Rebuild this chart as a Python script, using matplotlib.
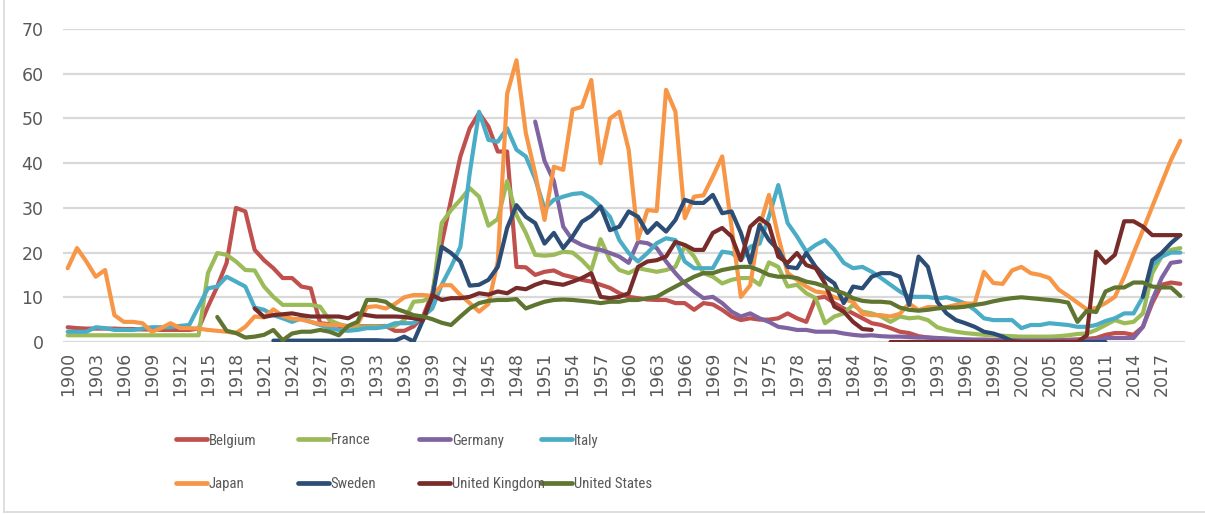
import numpy as np
import matplotlib
matplotlib.use("Agg")
import matplotlib.pyplot as plt
from matplotlib.lines import Line2D

N = None
years = list(range(1900, 2020))

belgium = [
    3.3, 3.1, 3.0, 3.0, 3.0, 3.0, 2.9, 2.9, 2.8, 2.8,
    2.7, 2.7, 2.7, 2.7, 3.0, 7.9, 12.4, 17.7, 30.0, 29.2,
    20.6, 18.3, 16.5, 14.3, 14.3, 12.4, 12.0, 4.2, 4.0, 3.6,
    3.5, 3.5, 3.5, 3.5, 3.6, 2.5, 2.5, 3.5, 5.7, 10.9,
    22.0, 31.8, 41.5, 47.8, 51.2, 48.2, 42.6, 42.6, 16.8, 16.7,
    15.0, 15.7, 16.0, 15.0, 14.5, 13.9, 13.5, 12.8, 12.1, 10.9,
    10.1, 9.8, 9.5, 9.4, 9.4, 8.7, 8.7, 7.2, 8.7, 8.4,
    7.2, 5.7, 4.9, 5.3, 5.0, 5.0, 5.3, 6.4, 5.3, 4.5,
    9.8, 10.1, 8.7, 7.5, 6.4, 5.3, 4.2, 3.8, 3.1, 2.3,
    2.0, 1.3, 1.0, 0.8, 0.7, 0.6, 0.5, 0.5, 0.5, 0.5,
    0.5, 0.5, 0.5, 0.5, 0.5, 0.5, 0.5, 0.5, 0.6, 0.7,
    0.9, 1.6, 2.0, 2.0, 1.6, 3.4, 8.7, 12.8, 13.3, 13.0,
]

france = [
    1.5, 1.5, 1.5, 1.5, 1.5, 1.5, 1.5, 1.5, 1.5, 1.5,
    1.5, 1.5, 1.5, 1.5, 1.5, 15.4, 19.9, 19.5, 18.0, 16.1,
    16.0, 12.4, 10.1, 8.3, 8.3, 8.3, 8.3, 7.9, 4.9, 4.0,
    3.5, 3.3, 3.3, 3.4, 3.5, 3.6, 4.9, 9.0, 9.2, 10.1,
    26.6, 29.5, 31.8, 34.4, 32.5, 26.0, 27.5, 36.0, 28.4, 24.4,
    19.5, 19.3, 19.5, 20.2, 20.0, 18.3, 16.1, 23.0, 18.3, 16.1,
    15.4, 16.5, 16.1, 15.7, 16.1, 16.8, 21.5, 19.1, 15.4, 14.6,
    13.1, 13.9, 14.3, 14.3, 12.8, 17.8, 16.8, 12.4, 12.8, 10.9,
    9.8, 4.2, 5.7, 6.4, 8.3, 6.8, 6.4, 5.7, 4.5, 5.7,
    5.3, 5.5, 4.9, 3.3, 2.7, 2.3, 2.0, 1.8, 1.6, 1.5,
    1.4, 1.3, 1.2, 1.2, 1.2, 1.2, 1.3, 1.5, 1.8, 1.9,
    2.7, 3.8, 4.9, 4.2, 4.5, 6.4, 15.4, 19.1, 20.6, 21.0,
]

germany = [N] * 50 + [
    49.3, 40.5, 36.0, 25.8, 22.8, 21.7, 21.0, 20.6, 19.9, 19.1,
    17.7, 22.4, 22.1, 21.0, 18.0, 15.4, 13.1, 11.3, 9.8, 10.1,
    8.7, 6.8, 5.7, 6.4, 5.3, 4.5, 3.4, 3.1, 2.7, 2.7,
    2.3, 2.3, 2.3, 1.9, 1.6, 1.4, 1.5, 1.3, 1.2, 1.2,
    1.1, 1.0, 1.0, 0.9, 0.8, 0.7, 0.6, 0.5, 0.5, 0.4,
    0.3, 0.3, 0.3, 0.3, 0.3, 0.3, 0.3, 0.3, 0.3, 0.3,
    0.4, 0.9, 0.9, 0.9, 0.9, 3.4, 9.4, 14.3, 17.7, 18.0,
]

italy = [
    2.3, 2.3, 2.3, 3.3, 3.1, 2.7, 2.7, 2.7, 3.0, 3.3,
    3.3, 3.3, 3.6, 3.8, 7.9, 12.0, 12.4, 14.6, 13.5, 12.4,
    7.7, 7.2, 6.0, 5.3, 4.5, 5.3, 4.5, 3.8, 3.1, 2.7,
    2.5, 2.7, 3.1, 3.1, 3.4, 4.2, 4.2, 4.2, 5.7, 7.5,
    12.8, 16.8, 21.3, 37.8, 51.5, 45.2, 44.8, 47.8, 43.0, 41.5,
    36.5, 29.8, 31.8, 32.5, 33.1, 33.3, 32.2, 30.3, 28.0, 22.8,
    19.9, 18.0, 19.9, 22.1, 23.2, 22.8, 18.0, 16.5, 16.5, 16.5,
    20.2, 19.9, 18.3, 21.3, 22.0, 28.0, 35.1, 26.6, 23.6, 20.2,
    21.7, 22.8, 20.6, 17.7, 16.5, 16.8, 15.7, 14.3, 12.8, 11.3,
    10.1, 10.1, 10.1, 9.7, 10.0, 9.4, 8.6, 7.2, 5.3, 4.9,
    4.9, 4.9, 3.1, 3.8, 3.8, 4.2, 4.0, 3.8, 3.4, 3.4,
    3.8, 4.7, 5.3, 6.4, 6.4, 10.1, 17.2, 19.1, 20.0, 20.0,
]

japan = [
    16.5, 21.0, 18.0, 14.6, 16.1, 6.0, 4.5, 4.5, 4.2, 2.3,
    3.1, 4.2, 3.1, 3.1, 3.0, 2.7, 2.5, 2.3, 2.0, 3.4,
    5.7, 5.5, 7.3, 5.8, 5.2, 5.0, 4.5, 4.0, 3.8, 3.8,
    3.5, 4.0, 7.8, 8.0, 7.5, 8.5, 10.0, 10.5, 10.5, 10.3,
    12.7, 12.7, 10.5, 8.7, 6.8, 8.5, 18.0, 55.5, 63.0, 46.7,
    37.7, 27.3, 39.2, 38.5, 52.0, 52.6, 58.6, 40.0, 50.0, 51.5,
    43.0, 23.0, 29.5, 29.3, 56.4, 51.5, 27.7, 32.5, 32.8, 37.0,
    41.5, 25.8, 10.1, 12.7, 25.8, 32.9, 23.6, 15.4, 13.9, 12.4,
    11.3, 11.0, 10.0, 9.5, 9.0, 6.3, 6.0, 6.0, 5.7, 6.3,
    8.6, 7.1, 7.8, 7.8, 7.8, 8.3, 8.6, 8.6, 15.7, 13.2,
    13.0, 16.0, 16.8, 15.4, 15.0, 14.3, 11.7, 10.3, 8.8, 7.3,
    7.6, 8.7, 10.1, 14.6, 19.9, 25.0, 30.3, 35.5, 40.7, 45.0,
]

sweden = [N] * 22 + [
    0.3, 0.3, 0.3, 0.3, 0.3, 0.3, 0.3, 0.3,
    0.4, 0.4, 0.4, 0.4, 0.3, 0.3, 1.2, 0.1, 4.9, 10.0,
    21.3, 19.9, 18.0, 12.6, 12.8, 13.9, 16.8, 25.5, 30.6, 28.0,
    26.6, 22.0, 24.4, 21.0, 23.6, 26.9, 28.2, 30.3, 25.0, 25.8,
    29.2, 28.0, 24.4, 26.6, 24.7, 27.3, 31.8, 31.1, 31.1, 32.9,
    28.8, 29.2, 24.4, 17.7, 26.2, 22.8, 20.6, 16.8, 16.5, 19.9,
    16.8, 14.6, 13.1, 8.7, 12.4, 12.0, 14.6, 15.4, 15.4, 14.6,
    8.3, 19.1, 16.8, 9.0, 6.4, 4.9, 4.2, 3.4, 2.3, 1.9,
    1.2, 0.2, 0.0, 0.0, 0.0, 0.0, 0.0, 0.0, 0.0, 0.0,
    0.0, 0.0, N, N, N, 10.1, 18.3, 19.9, 22.1, 23.9,
]

united_kingdom = [N] * 20 + [
    7.5, 5.6, 6.0, 6.2, 6.4, 6.0, 5.7, 5.7, 5.7, 5.7,
    5.3, 6.4, 6.0, 5.7, 5.7, 5.7, 5.6, 5.3, 4.9, 10.5,
    9.4, 9.8, 9.8, 10.1, 10.9, 10.6, 11.3, 10.9, 12.1, 11.8,
    12.8, 13.5, 13.1, 12.8, 13.5, 14.3, 15.4, 10.1, 9.8, 10.1,
    10.9, 16.8, 18.0, 18.3, 19.1, 22.4, 21.7, 20.6, 20.6, 24.4,
    25.5, 23.6, 18.3, 25.8, 27.7, 26.2, 19.1, 17.7, 19.9, 17.2,
    16.5, 13.1, 7.9, 6.8, 4.5, 2.9, 2.7, N, 0.0, 0.0,
    0.0, 0.0, 0.0, 0.0, 0.0, 0.0, 0.0, 0.0, 0.0, 0.0,
    0.0, 0.0, 0.0, 0.0, 0.0, 0.0, 0.0, 0.0, 0.0, 1.5,
    20.2, 17.7, 19.5, 27.0, 27.0, 25.8, 23.9, 23.9, 23.9, 23.9,
]

united_states = [N] * 16 + [
    5.6, 2.5, 2.0, 1.0,
    1.2, 1.6, 2.7, 0.4, 1.9, 2.3, 2.3, 2.7, 2.3, 1.5,
    3.6, 4.5, 9.4, 9.4, 9.0, 7.5, 6.8, 6.0, 5.7, 5.1,
    4.3, 3.8, 5.7, 7.5, 8.7, 9.2, 9.4, 9.4, 9.6, 7.5,
    8.3, 9.0, 9.4, 9.5, 9.4, 9.2, 9.0, 8.7, 9.0, 9.0,
    9.4, 9.4, 9.8, 10.1, 11.3, 12.4, 13.5, 14.6, 15.4, 15.4,
    16.1, 16.5, 16.8, 16.8, 16.0, 15.0, 14.6, 14.6, 14.3, 13.5,
    13.1, 12.4, 11.6, 10.9, 9.8, 9.2, 9.0, 9.0, 8.8, 7.7,
    7.2, 7.0, 7.2, 7.5, 7.7, 7.7, 7.9, 8.3, 8.6, 9.1,
    9.5, 9.8, 10.0, 9.8, 9.6, 9.4, 9.2, 8.8, 4.5, 7.0,
    6.7, 11.3, 12.2, 12.2, 13.3, 13.3, 12.4, 12.2, 12.2, 10.3,
]

names = ["Belgium", "France", "Germany", "Italy",
         "Japan", "Sweden", "United Kingdom", "United States"]
series = [belgium, france, germany, italy, japan, sweden,
          united_kingdom, united_states]
colors = ["#C0504D", "#9BBB59", "#8064A2", "#4BACC6",
          "#F79646", "#2C4D75", "#772C2A", "#5F7530"]

y_ticks = [0, 10, 20, 30, 40, 50, 60, 70]
x_label_years = list(range(1900, 2019, 3))

W, H = 1205, 514
fig = plt.figure(figsize=(W / 100, H / 100), dpi=100)
ax = fig.add_axes([63 / W, 1 - 342 / H, (1185 - 63) / W, (342 - 29) / H])

for s, c in zip(series, colors):
    v = np.array([np.nan if x is None else x for x in s], dtype=float)
    ax.plot(years, v, color=c, lw=3.0, solid_joinstyle="round",
            solid_capstyle="round", zorder=3)

ax.set_xlim(1899.5, 2019.5)
ax.set_ylim(0, 70)
ax.set_yticks(y_ticks)
ax.set_xticks(x_label_years)
ax.set_xticklabels([str(y) for y in x_label_years], rotation=90)
ax.grid(axis="y", color="#D9D9D9", lw=1.6, zorder=0)
ax.grid(axis="x", visible=False)
ax.set_axisbelow(True)
for sp in ax.spines.values():
    sp.set_visible(False)
ax.tick_params(axis="both", length=0, labelcolor="#595959", labelsize=12.5)
ax.tick_params(axis="y", pad=14)
ax.tick_params(axis="x", pad=7)

# legend drawn manually
legend_font = ["Roboto Condensed", "Liberation Sans", "DejaVu Sans"]
for i, (name, c) in enumerate(zip(names, colors)):
    col, row = i % 4, i // 4
    x0 = 176 + 121.7 * col
    yc = 439 + 43.5 * row
    fig.add_artist(Line2D([x0 / W, (x0 + 31) / W], [1 - yc / H, 1 - yc / H],
                          color=c, lw=3.4, solid_capstyle="round"))
    fig.text((x0 + 33) / W, 1 - yc / H, name, family=legend_font,
             fontsize=10.6, color="#595959", va="center_baseline", ha="left")

# chart area border (left and bottom visible)
fig.add_artist(Line2D([3.5 / W, 3.5 / W], [2 / H, 1], color="#D9D9D9", lw=1.2))
fig.add_artist(Line2D([3.5 / W, 1], [2 / H, 2 / H], color="#D9D9D9", lw=1.2))

fig.savefig("out.png", dpi=100)
